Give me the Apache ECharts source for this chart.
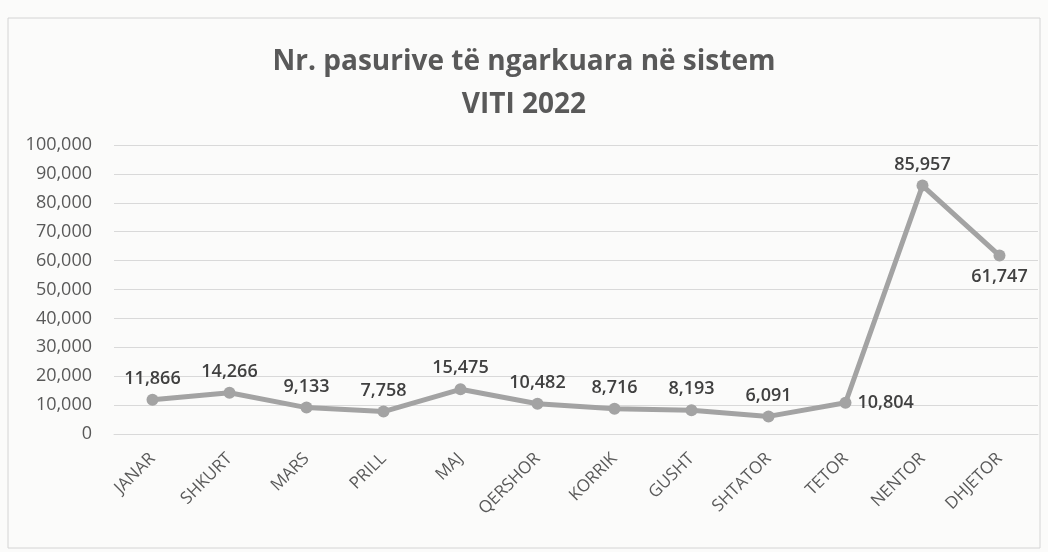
<!DOCTYPE html>
<html>
<head>
<meta charset="utf-8">
<script src="https://cdn.jsdelivr.net/npm/echarts@6/dist/echarts.min.js"></script>
<style>
  html, body { margin: 0; padding: 0; background: #fbfbfa; }
  #chart { width: 1048px; height: 552px; }
</style>
</head>
<body>
<div id="chart"></div>
<script>
// muajt e vitit 2022
const months = ['JANAR', 'SHKURT', 'MARS', 'PRILL', 'MAJ', 'QERSHOR', 'KORRIK', 'GUSHT', 'SHTATOR', 'TETOR', 'NENTOR', 'DHJETOR'];
const counts = [11866, 14266, 9133, 7758, 15475, 10482, 8716, 8193, 6091, 10804, 85957, 61747];
const titleLines = ['Nr. pasurive të ngarkuara në sistem', 'VITI 2022'];

// where each data label sits relative to its point
const labelPos = ['top', 'top', 'top', 'top', 'top', 'top', 'top', 'top', 'top', 'right', 'top', 'bottom'];

const chart = echarts.init(document.getElementById('chart'));
const font = '"Open Sans", "Noto Sans", sans-serif';
const textColor = '#595959';

chart.setOption({
    backgroundColor: '#fbfbfa',
    animation: false,
    graphic: [{
        type: 'rect',
        shape: { x: 8, y: 18, width: 1032, height: 530 },
        style: { fill: 'none', stroke: '#d4d4d4', lineWidth: 1 },
        silent: true
    }],
    title: {
        text: titleLines.join('\n'),
        left: 'center',
        top: 36,
        textStyle: {
            fontFamily: font,
            fontSize: 28,
            fontWeight: 'bold',
            color: textColor,
            lineHeight: 43
        }
    },
    grid: {
        left: 114,
        right: 10,
        top: 145,
        bottom: 118,
        containLabel: false
    },
    xAxis: {
        type: 'category',
        data: months,
        boundaryGap: true,
        axisLine: { show: true, lineStyle: { color: '#d9d9d9' } },
        axisTick: { show: false },
        axisLabel: {
            rotate: 45,
            interval: 0,
            margin: 22,
            fontFamily: font,
            fontSize: 17,
            color: textColor
        }
    },
    yAxis: {
        type: 'value',
        min: 0,
        max: 100000,
        interval: 10000,
        axisLine: { show: false },
        axisTick: { show: false },
        splitLine: { lineStyle: { color: '#d9d9d9', width: 1 } },
        axisLabel: {
            margin: 22,
            fontFamily: font,
            fontSize: 18,
            color: textColor,
            formatter: v => v.toLocaleString('en-US')
        }
    },
    series: [{
        type: 'line',
        data: counts.map((v, i) => ({
            value: v,
            label: { position: labelPos[i] }
        })),
        symbol: 'circle',
        symbolSize: 12,
        lineStyle: { color: '#a3a3a3', width: 5 },
        itemStyle: { color: '#a3a3a3' },
        label: {
            show: true,
            distance: 6,
            fontFamily: font,
            fontSize: 18,
            fontWeight: 600,
            color: '#404040',
            formatter: p => p.value.toLocaleString('en-US')
        }
    }]
});
</script>
</body>
</html>
